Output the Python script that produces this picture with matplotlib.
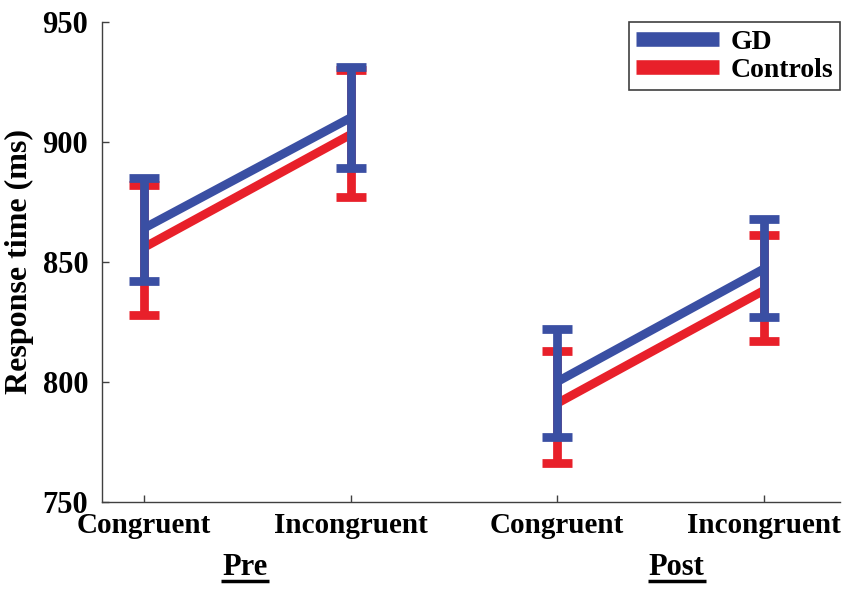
import matplotlib.pyplot as plt
import numpy as np

# condition labels and values (ms)
conditions = ['Congruent', 'Incongruent', 'Congruent', 'Incongruent']
phases = ['Pre', 'Post']

gd_mean = [864, 910, 800, 847]
gd_low = [842, 889, 777, 827]
gd_high = [885, 931, 822, 868]

ctrl_mean = [856, 903, 791, 838]
ctrl_low = [828, 877, 766, 817]
ctrl_high = [882, 930, 813, 861]

blue = '#3a4fa3'
red = '#e8202a'
plt.rcParams['font.family'] = ['Liberation Serif', 'DejaVu Serif']
plt.rcParams['font.weight'] = 'bold'

fig = plt.figure(figsize=(8.51, 5.89), dpi=100)
ax = fig.add_axes([0.12, 0.148, 0.867, 0.815])

x = np.arange(1, len(conditions) + 1)


def draw_group(mean, low, high, color, label):
    mean = np.array(mean)
    err = [mean - np.array(low), np.array(high) - mean]
    # connect congruent -> incongruent within each phase
    for i in (0, 2):
        ax.plot(x[i:i + 2], mean[i:i + 2], color=color, lw=6.3, solid_capstyle='butt',
                label=label if i == 0 else None)
    ax.errorbar(x, mean, yerr=err, fmt='none', ecolor=color, elinewidth=6.3,
                capsize=10.5, capthick=6.3)


draw_group(ctrl_mean, ctrl_low, ctrl_high, red, 'Controls')
draw_group(gd_mean, gd_low, gd_high, blue, 'GD')

ax.set_xlim(0.797, 4.37)
ax.set_ylim(750, 950)
ax.set_yticks([750, 800, 850, 900, 950])
ax.set_xticks(x)
ax.set_xticklabels(conditions)
ax.tick_params(direction='in', length=5, width=1, color='#404040', pad=10)
ax.tick_params(axis='y', labelsize=22)
ax.tick_params(axis='x', labelsize=21, pad=7)
for s in ('top', 'right'):
    ax.spines[s].set_visible(False)
for s in ('left', 'bottom'):
    ax.spines[s].set_color('#404040')
    ax.spines[s].set_linewidth(1)

ax.set_ylabel('Response time (ms)', fontsize=23, fontweight='bold', labelpad=6)

# phase labels (underlined) under the condition labels
xt = ax.get_xaxis_transform()
for pos, name, half in zip([1.49, 3.58], phases, [0.115, 0.14]):
    ax.text(pos, -0.137, name, transform=xt, ha='center', va='center',
            fontsize=22, fontweight='bold')
    ax.plot([pos - half, pos + half], [-0.164, -0.164], transform=xt, color='black',
            lw=2.5, clip_on=False, solid_capstyle='butt')

handles, labels = ax.get_legend_handles_labels()
order = [labels.index('GD'), labels.index('Controls')]
leg = ax.legend([handles[i] for i in order], [labels[i] for i in order],
                loc='upper right', bbox_to_anchor=(1.004, 1.005), fontsize=20, handlelength=3.0,
                fancybox=False, edgecolor='#404040', framealpha=1, borderpad=0.25,
                labelspacing=0.1, handletextpad=0.4, borderaxespad=0.1)
for h in leg.get_lines():
    h.set_linewidth(10.5)
leg.get_frame().set_linewidth(1.2)

fig.savefig('out.png', dpi=100)
